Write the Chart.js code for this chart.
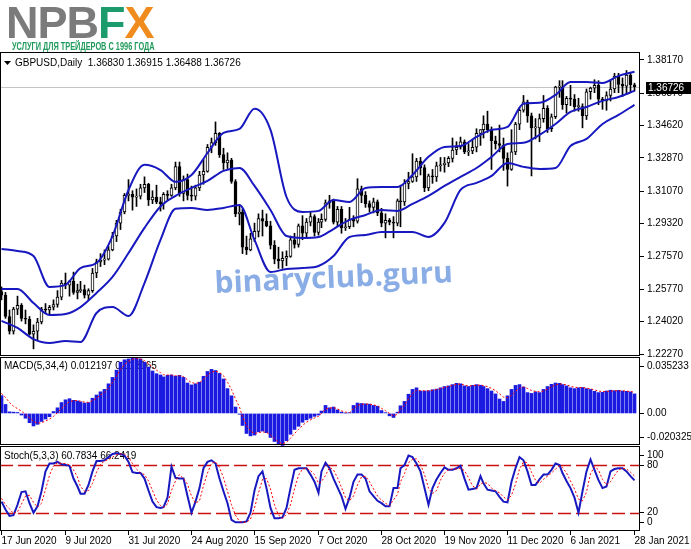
<!DOCTYPE html>
<html>
<head>
<meta charset="utf-8">
<script src="https://cdn.jsdelivr.net/npm/chart.js@4"></script>
<style>
  html, body { margin: 0; padding: 0; background: #fff; }
  #wrap { position: relative; width: 691px; height: 549px; overflow: hidden; }
  #chart { position: absolute; left: 0; top: 0; }
  #logo { position: absolute; left: 6px; top: 0; z-index: 2; font: bold 45px/45px "Liberation Sans", Arial, sans-serif; letter-spacing: -1px; color: #7b7b7b; }
  #logo .f { color: #1c9c6c; }
  #logo .x { color: #f08c1e; }
  #tag { position: absolute; left: 12px; top: 41px; z-index: 2; font: bold 11px/11px "Liberation Sans", Arial, sans-serif; color: #1f9a5c; white-space: nowrap; transform: scaleX(0.67); transform-origin: 0 0; }
</style>
</head>
<body>
<div id="wrap">
  <canvas id="chart" width="691" height="549"></canvas>
  <div id="logo">NPB<span class="f">F</span><span class="x">X</span></div>
  <div id="tag">УСЛУГИ ДЛЯ ТРЕЙДЕРОВ С 1996 ГОДА</div>
</div>
<script>
// GBPUSD daily, 17 Jun 2020 .. 28 Jan 2021 (161 bars)
const dateLabels = ['17 Jun 2020', '9 Jul 2020', '31 Jul 2020', '24 Aug 2020', '15 Sep 2020', '7 Oct 2020',
  '28 Oct 2020', '19 Nov 2020', '11 Dec 2020', '6 Jan 2021', '28 Jan 2021'];
const dateTicks = [0, 16, 32, 48, 64, 80, 96, 112, 128, 144, 160];

const opens = [
  1.2565, 1.2545, 1.2430, 1.2350, 1.2470, 1.2490, 1.2420, 1.2415, 1.2335, 1.2350,
  1.2400, 1.2470, 1.2465, 1.2480, 1.2495, 1.2535, 1.2610, 1.2600, 1.2620, 1.2560,
  1.2570, 1.2575, 1.2545, 1.2570, 1.2665, 1.2725, 1.2735, 1.2740, 1.2790, 1.2865,
  1.2935, 1.2995, 1.3085, 1.3090, 1.3075, 1.3080, 1.3125, 1.3145, 1.3060, 1.3075,
  1.3050, 1.3040, 1.3090, 1.3085, 1.3125, 1.3240, 1.3095, 1.3170, 1.3085, 1.3080,
  1.3125, 1.3195, 1.3215, 1.3345, 1.3370, 1.3420, 1.3305, 1.3260, 1.3275, 1.3160,
  1.2985, 1.2995, 1.2805, 1.2790, 1.2850, 1.2890, 1.2960, 1.2945, 1.2920, 1.2815,
  1.2740, 1.2730, 1.2745, 1.2755, 1.2845, 1.2820, 1.2920, 1.2880, 1.2940, 1.2970,
  1.2885, 1.2940, 1.2955, 1.3045, 1.3055, 1.2940, 1.3010, 1.2910, 1.2915, 1.2955,
  1.2945, 1.3120, 1.3085, 1.3040, 1.3020, 1.3050, 1.2990, 1.2935, 1.2950, 1.2940,
  1.2935, 1.3055, 1.3050, 1.3150, 1.3160, 1.3185, 1.3270, 1.3235, 1.3125, 1.3190,
  1.3185, 1.3245, 1.3250, 1.3260, 1.3285, 1.3330, 1.3345, 1.3375, 1.3320, 1.3325,
  1.3345, 1.3420, 1.3440, 1.3470, 1.3440, 1.3380, 1.3365, 1.3355, 1.3285, 1.3225,
  1.3320, 1.3470, 1.3545, 1.3590, 1.3515, 1.3450, 1.3450, 1.3500, 1.3555, 1.3445,
  1.3510, 1.3670, 1.3670, 1.3575, 1.3610, 1.3605, 1.3565, 1.3565, 1.3515, 1.3645,
  1.3665, 1.3680, 1.3605, 1.3595, 1.3625, 1.3660, 1.3730, 1.3685, 1.3675, 1.3735,
  1.36830
];
const highs = [
  1.2590, 1.2560, 1.2465, 1.2480, 1.2540, 1.2500, 1.2465, 1.2430, 1.2385, 1.2420,
  1.2480, 1.2500, 1.2490, 1.2520, 1.2570, 1.2625, 1.2665, 1.2625, 1.2670, 1.2605,
  1.2620, 1.2600, 1.2580, 1.2690, 1.2740, 1.2770, 1.2790, 1.2810, 1.2885, 1.2950,
  1.3010, 1.3095, 1.3170, 1.3110, 1.3120, 1.3145, 1.3185, 1.3150, 1.3110, 1.3140,
  1.3075, 1.3100, 1.3110, 1.3145, 1.3265, 1.3265, 1.3190, 1.3200, 1.3135, 1.3140,
  1.3215, 1.3280, 1.3360, 1.3395, 1.3482, 1.3425, 1.3340, 1.3315, 1.3285, 1.3170,
  1.3035, 1.3010, 1.2865, 1.2880, 1.2935, 1.2985, 1.3005, 1.2985, 1.2945, 1.2840,
  1.2805, 1.2780, 1.2785, 1.2865, 1.2880, 1.2930, 1.2975, 1.2960, 1.2995, 1.2980,
  1.2960, 1.2985, 1.3060, 1.3085, 1.3065, 1.3025, 1.3025, 1.2960, 1.3020, 1.2975,
  1.3175, 1.3135, 1.3105, 1.3055, 1.3070, 1.3060, 1.3015, 1.2985, 1.2960, 1.2970,
  1.3065, 1.3140, 1.3170, 1.3210, 1.3310, 1.3285, 1.3290, 1.3250, 1.3200, 1.3225,
  1.3265, 1.3290, 1.3290, 1.3295, 1.3395, 1.3375, 1.3400, 1.3385, 1.3365, 1.3385,
  1.3445, 1.3440, 1.3515, 1.3540, 1.3455, 1.3405, 1.3465, 1.3395, 1.3315, 1.3440,
  1.3480, 1.3560, 1.3625, 1.3600, 1.3530, 1.3500, 1.3525, 1.3625, 1.3570, 1.3525,
  1.3675, 1.3705, 1.3705, 1.3620, 1.3680, 1.3630, 1.3610, 1.3580, 1.3660, 1.3670,
  1.3710, 1.3705, 1.3615, 1.3645, 1.3705, 1.3745, 1.3745, 1.3720, 1.3760, 1.3745,
  1.36915
];
const lows = [
  1.2520, 1.2420, 1.2335, 1.2335, 1.2440, 1.2405, 1.2390, 1.2330, 1.2255, 1.2300,
  1.2390, 1.2445, 1.2445, 1.2465, 1.2480, 1.2520, 1.2580, 1.2540, 1.2550, 1.2525,
  1.2560, 1.2530, 1.2520, 1.2560, 1.2640, 1.2700, 1.2710, 1.2735, 1.2785, 1.2835,
  1.2900, 1.2985, 1.3055, 1.3005, 1.3025, 1.3065, 1.3100, 1.3030, 1.3040, 1.3040,
  1.3000, 1.3010, 1.3060, 1.3080, 1.3115, 1.3080, 1.3055, 1.3060, 1.3055, 1.3060,
  1.3110, 1.3145, 1.3210, 1.3315, 1.3355, 1.3290, 1.3225, 1.3230, 1.3150, 1.2970,
  1.2925, 1.2770, 1.2765, 1.2785, 1.2835, 1.2860, 1.2865, 1.2915, 1.2795, 1.2715,
  1.2690, 1.2690, 1.2705, 1.2750, 1.2800, 1.2805, 1.2845, 1.2860, 1.2920, 1.2865,
  1.2870, 1.2910, 1.2945, 1.3015, 1.2930, 1.2920, 1.2880, 1.2895, 1.2905, 1.2915,
  1.2935, 1.3045, 1.3020, 1.2995, 1.2990, 1.2975, 1.2915, 1.2855, 1.2925, 1.2855,
  1.2920, 1.2915, 1.3030, 1.3120, 1.3155, 1.3160, 1.3195, 1.3105, 1.3110, 1.3150,
  1.3160, 1.3215, 1.3210, 1.3240, 1.3265, 1.3305, 1.3335, 1.3310, 1.3300, 1.3310,
  1.3320, 1.3355, 1.3395, 1.3425, 1.3225, 1.3335, 1.3320, 1.3220, 1.3135, 1.3220,
  1.3305, 1.3440, 1.3535, 1.3480, 1.3190, 1.3390, 1.3375, 1.3480, 1.3425, 1.3430,
  1.3500, 1.3615, 1.3550, 1.3530, 1.3570, 1.3540, 1.3540, 1.3450, 1.3495, 1.3605,
  1.3640, 1.3575, 1.3550, 1.3545, 1.3595, 1.3640, 1.3640, 1.3620, 1.3630, 1.3640,
  1.36488
];
const closes = [
  1.2545, 1.2430, 1.2350, 1.2470, 1.2490, 1.2420, 1.2415, 1.2335, 1.2350, 1.2400,
  1.2470, 1.2465, 1.2480, 1.2495, 1.2535, 1.2610, 1.2600, 1.2620, 1.2560, 1.2570,
  1.2575, 1.2545, 1.2570, 1.2665, 1.2725, 1.2735, 1.2740, 1.2790, 1.2865, 1.2935,
  1.2995, 1.3085, 1.3090, 1.3075, 1.3080, 1.3125, 1.3145, 1.3060, 1.3075, 1.3050,
  1.3040, 1.3090, 1.3085, 1.3125, 1.3240, 1.3095, 1.3170, 1.3085, 1.3080, 1.3125,
  1.3195, 1.3215, 1.3345, 1.3370, 1.3420, 1.3305, 1.3260, 1.3275, 1.3160, 1.2985,
  1.2995, 1.2805, 1.2790, 1.2850, 1.2890, 1.2960, 1.2945, 1.2920, 1.2815, 1.2740,
  1.2730, 1.2745, 1.2755, 1.2845, 1.2820, 1.2920, 1.2880, 1.2940, 1.2970, 1.2885,
  1.2940, 1.2955, 1.3045, 1.3055, 1.2940, 1.3010, 1.2910, 1.2915, 1.2955, 1.2945,
  1.3120, 1.3085, 1.3040, 1.3020, 1.3050, 1.2990, 1.2935, 1.2950, 1.2940, 1.2935,
  1.3055, 1.3050, 1.3150, 1.3160, 1.3185, 1.3270, 1.3235, 1.3125, 1.3190, 1.3185,
  1.3245, 1.3250, 1.3260, 1.3285, 1.3330, 1.3345, 1.3375, 1.3320, 1.3325, 1.3345,
  1.3420, 1.3440, 1.3470, 1.3440, 1.3380, 1.3365, 1.3355, 1.3285, 1.3225, 1.3320,
  1.3470, 1.3545, 1.3590, 1.3515, 1.3450, 1.3450, 1.3500, 1.3555, 1.3445, 1.3510,
  1.3670, 1.3670, 1.3575, 1.3610, 1.3605, 1.3565, 1.3565, 1.3515, 1.3645, 1.3665,
  1.3680, 1.3605, 1.3595, 1.3625, 1.3660, 1.3730, 1.3685, 1.3675, 1.3735, 1.3683,
  1.36726
];

// Bollinger bands, every 4th bar
const bbStep = 4;
const bbUpper = [
  1.2795, 1.2784, 1.2757, 1.2590, 1.2601, 1.2692, 1.2719, 1.2865, 1.3114, 1.3250,
  1.3222, 1.3158, 1.3195, 1.3314, 1.3423, 1.3444, 1.3553, 1.3439, 1.3076, 1.2995,
  1.3001, 1.3060, 1.3049, 1.3125, 1.3130, 1.3130, 1.3195, 1.3293, 1.3347, 1.3352,
  1.3401, 1.3439, 1.3455, 1.3580, 1.3585, 1.3628, 1.3698, 1.3698, 1.3693, 1.3731,
  1.3753
];
const bbMiddle = [
  1.2579, 1.2579, 1.2503, 1.2438, 1.2443, 1.2481, 1.2557, 1.2644, 1.2773, 1.2909,
  1.3025, 1.3082, 1.3125, 1.3163, 1.3217, 1.3233, 1.3136, 1.3006, 1.2865, 1.2855,
  1.2860, 1.2903, 1.2952, 1.2979, 1.3006, 1.3001, 1.3039, 1.3082, 1.3136, 1.3185,
  1.3233, 1.3293, 1.3363, 1.3369, 1.3412, 1.3471, 1.3536, 1.3563, 1.3596, 1.3617,
  1.3650
];
const bbLower = [
  1.2406, 1.2368, 1.2308, 1.2287, 1.2297, 1.2292, 1.2449, 1.2481, 1.2433, 1.2611,
  1.2844, 1.3012, 1.3017, 1.3006, 1.3017, 1.3033, 1.2844, 1.2671, 1.2687, 1.2692,
  1.2703, 1.2757, 1.2860, 1.2871, 1.2887, 1.2887, 1.2887, 1.2860, 1.2936, 1.3114,
  1.3152, 1.3190, 1.3260, 1.3239, 1.3228, 1.3233, 1.3352, 1.3390, 1.3471, 1.3520,
  1.3574
];

// MACD(5,34,4): histogram and signal
const macdMain = [
  0.0111, 0.0056, 0.0010, 0.0008, 0.0006, -0.0010, -0.0030, -0.0058, -0.0078, -0.0068,
  -0.0050, -0.0035, -0.0020, 0.0012, 0.0035, 0.0068, 0.0085, 0.0092, 0.0082, 0.0078,
  0.0072, 0.0065, 0.0068, 0.0095, 0.0115, 0.0135, 0.0150, 0.0185, 0.0225, 0.0270,
  0.0320, 0.0335, 0.0340, 0.0352, 0.0345, 0.0340, 0.0320, 0.0290, 0.0265, 0.0248,
  0.0240, 0.0228, 0.0238, 0.0240, 0.0232, 0.0238, 0.0225, 0.0190, 0.0178, 0.0185,
  0.0195, 0.0232, 0.0262, 0.0275, 0.0268, 0.0250, 0.0215, 0.0155, 0.0110, 0.0040,
  -0.0005, -0.0075, -0.0125, -0.0140, -0.0135, -0.0115, -0.0110, -0.0120, -0.0150, -0.0175,
  -0.0195, -0.0200, -0.0170, -0.0130, -0.0100, -0.0080, -0.0055, -0.0040, -0.0030, -0.0018,
  -0.0010, 0.0015, 0.0050, 0.0035, 0.0040, 0.0022, 0.0008, 0.0002, 0.0005, 0.0050,
  0.0065, 0.0062, 0.0060, 0.0058, 0.0050, 0.0045, 0.0018, 0.0005, -0.0015, -0.0025,
  0.0008, 0.0048, 0.0075, 0.0120, 0.0150, 0.0160, 0.0140, 0.0140, 0.0142, 0.0148,
  0.0152, 0.0160, 0.0168, 0.0172, 0.0180, 0.0188, 0.0185, 0.0172, 0.0168, 0.0175,
  0.0180, 0.0176, 0.0168, 0.0155, 0.0140, 0.0122, 0.0090, 0.0075, 0.0110, 0.0150,
  0.0175, 0.0180, 0.0165, 0.0130, 0.0125, 0.0135, 0.0130, 0.0150, 0.0168, 0.0182,
  0.0190, 0.0188, 0.0180, 0.0172, 0.0160, 0.0155, 0.0160, 0.0162, 0.0155, 0.0150,
  0.0138, 0.0130, 0.0132, 0.0140, 0.0145, 0.0142, 0.0144, 0.0140, 0.0138, 0.0135,
  0.012197
];
const macdSignal = [
  0.0125, 0.0100, 0.0068, 0.0045, 0.0030, 0.0014, -0.0005, -0.0028, -0.0050, -0.0060,
  -0.0058, -0.0048, -0.0035, -0.0018, 0.0005, 0.0030, 0.0055, 0.0073, 0.0080, 0.0080,
  0.0076, 0.0071, 0.0069, 0.0080, 0.0095, 0.0115, 0.0132, 0.0160, 0.0192, 0.0232,
  0.0275, 0.0305, 0.0325, 0.0338, 0.0342, 0.0340, 0.0330, 0.0312, 0.0290, 0.0270,
  0.0255, 0.0242, 0.0240, 0.0240, 0.0235, 0.0236, 0.0230, 0.0210, 0.0192, 0.0188,
  0.0192, 0.0212, 0.0240, 0.0258, 0.0264, 0.0256, 0.0235, 0.0195, 0.0150, 0.0090,
  0.0040, -0.0020, -0.0075, -0.0110, -0.0125, -0.0120, -0.0115, -0.0118, -0.0135, -0.0158,
  -0.0178, -0.0190, -0.0180, -0.0155, -0.0125, -0.0100, -0.0075, -0.0055, -0.0040, -0.0028,
  -0.0018, 0.0000, 0.0028, 0.0032, 0.0037, 0.0028, 0.0016, 0.0008, 0.0006, 0.0030,
  0.0050, 0.0057, 0.0059, 0.0058, 0.0053, 0.0048, 0.0032, 0.0017, 0.0000, -0.0015,
  -0.0005, 0.0025, 0.0052, 0.0090, 0.0125, 0.0145, 0.0142, 0.0141, 0.0141, 0.0145,
  0.0149, 0.0155, 0.0163, 0.0168, 0.0175, 0.0182, 0.0184, 0.0177, 0.0171, 0.0173,
  0.0176, 0.0177, 0.0174, 0.0167, 0.0157, 0.0143, 0.0122, 0.0102, 0.0098, 0.0113,
  0.0138, 0.0158, 0.0166, 0.0156, 0.0143, 0.0138, 0.0135, 0.0140, 0.0152, 0.0166,
  0.0178, 0.0184, 0.0183, 0.0178, 0.0170, 0.0163, 0.0162, 0.0162, 0.0158, 0.0154,
  0.0147, 0.0140, 0.0136, 0.0137, 0.0140, 0.0141, 0.0142, 0.0141, 0.0139, 0.0137,
  0.013165
];

// Stochastic(5,3,3)
const stochK = [
  34, 24, 16, 17, 30, 46, 47, 32, 20, 28,
  47, 72, 82, 82, 84, 81, 80, 79, 63, 53,
  44, 44, 55, 72, 85, 85, 86, 90, 94, 95,
  94, 92, 84, 71, 70, 70, 63, 48, 34, 27,
  26, 27, 39, 78, 64, 63, 63, 41, 20, 34,
  51, 76, 84, 86, 82, 63, 47, 32, 11, 8,
  8, 8, 9, 20, 48, 66, 72, 51, 26, 13,
  13, 14, 26, 51, 74, 76, 76, 76, 68, 59,
  45, 72, 83, 76, 63, 52, 41, 25, 39, 59,
  68, 68, 63, 47, 41, 35, 32, 28, 28, 51,
  51, 76, 80, 92, 90, 82, 72, 51, 30, 51,
  62, 70, 77, 74, 74, 76, 79, 63, 49, 50,
  51, 66, 57, 49, 48, 47, 40, 34, 33, 59,
  76, 90, 86, 72, 55, 55, 62, 68, 68, 74,
  82, 80, 70, 60, 51, 39, 20, 47, 72, 87,
  74, 61, 51, 53, 72, 75, 76, 76, 72, 66,
  60.7834
];
const stochD = [
  38, 30, 25, 19, 21, 31, 41, 42, 33, 27,
  32, 49, 67, 79, 83, 82, 82, 80, 74, 65,
  53, 47, 48, 57, 71, 81, 85, 87, 90, 93,
  94, 94, 90, 82, 75, 70, 68, 60, 48, 36,
  29, 27, 31, 48, 60, 68, 63, 56, 41, 32,
  35, 54, 70, 82, 84, 77, 64, 47, 30, 17,
  9, 8, 8, 12, 26, 45, 62, 63, 50, 30,
  17, 13, 18, 30, 50, 67, 75, 76, 73, 68,
  57, 59, 67, 77, 74, 64, 52, 39, 35, 41,
  55, 65, 66, 59, 50, 41, 36, 32, 29, 36,
  43, 59, 69, 83, 87, 88, 81, 68, 51, 44,
  48, 61, 70, 74, 75, 75, 76, 73, 64, 54,
  50, 56, 58, 57, 51, 48, 45, 40, 36, 42,
  56, 75, 84, 83, 71, 61, 57, 62, 66, 70,
  75, 79, 77, 70, 60, 50, 37, 35, 46, 69,
  78, 74, 62, 55, 59, 67, 74, 76, 75, 71,
  66.2419
];
const stochLevels = [80, 20];

const priceTicks = [1.38170, 1.36370, 1.34620, 1.32870, 1.31070, 1.29320, 1.27570, 1.25770, 1.24020, 1.22270];
const macdTicks = [0.035233, 0, -0.020325];
const stochTicks = [100, 80, 20, 0];

const BLUE = '#1818c0';
const FONT = '"Liberation Sans", Arial, sans-serif';
const last = closes.length - 1;
const bars = closes.map((_, i) => i);

// one right-hand axis per sub-window, stacked top to bottom
function paneAxis(weight, min, max, values, fmt, inset) {
  return {
    position: 'right',
    stack: 'panes',
    stackWeight: weight,
    min: min,
    max: max,
    grid: { drawOnChartArea: false, drawTicks: true, tickLength: 4, color: '#000' },
    border: { display: false },
    ticks: { color: '#000', font: { family: FONT, size: 10 }, padding: 3, autoSkip: false, callback: fmt },
    afterBuildTicks(s) { s.ticks = values.map(v => ({ value: v })); },
    afterFit(s) {
      s.width = 51;
      s.paddingTop = 0;
      s.paddingBottom = 0;
      if (inset) {
        // MT4 keeps the min/max labels inside the window
        const base = Object.getPrototypeOf(s).getPixelForTick;
        s.getPixelForTick = function (i) {
          const p = base.call(this, i);
          return Math.min(Math.max(p, this.top + inset), this.bottom - inset);
        };
      }
    }
  };
}

const mtPanels = {
  id: 'mtPanels',
  beforeDatasetsDraw(chart) {
    const { ctx, chartArea: a, scales } = chart;
    const y = scales.y, ym = scales.yMacd, ys = scales.yStoch;
    ctx.save();

    // watermark
    ctx.save();
    ctx.translate(a.left + 215, y.top + 241);
    ctx.rotate(-2.6 * Math.PI / 180);
    ctx.font = 'bold 30px "Open Sans", sans-serif';
    ctx.fillStyle = 'rgba(104,150,220,0.78)';
    ctx.fillText('binaryclub.guru', 0, 0);
    ctx.restore();

    // current price line
    const py = Math.round(y.getPixelForValue(closes[last])) + 0.5;
    ctx.strokeStyle = '#c4c4c4';
    ctx.lineWidth = 1;
    ctx.beginPath();
    ctx.moveTo(a.left, py);
    ctx.lineTo(a.right, py);
    ctx.stroke();

    // stochastic levels
    ctx.strokeStyle = '#cc1111';
    ctx.lineWidth = 1.5;
    ctx.setLineDash([13, 5]);
    stochLevels.forEach(v => {
      const ly = Math.round(ys.getPixelForValue(v)) + 0.5;
      ctx.beginPath();
      ctx.moveTo(a.left, ly);
      ctx.lineTo(a.right, ly);
      ctx.stroke();
    });
    ctx.setLineDash([]);

    // window captions
    ctx.fillStyle = '#000';
    ctx.textBaseline = 'middle';
    ctx.font = '10px ' + FONT;
    ctx.beginPath();
    ctx.moveTo(a.left + 4, y.top + 9);
    ctx.lineTo(a.left + 11, y.top + 9);
    ctx.lineTo(a.left + 7.5, y.top + 13);
    ctx.closePath();
    ctx.fill();
    ctx.fillText('GBPUSD,Daily  ' + [opens[last], highs[last], lows[last], closes[last]].map(v => v.toFixed(5)).join(' '),
      a.left + 15, y.top + 11);
    ctx.fillText('MACD(5,34,4) ' + macdMain[last].toFixed(6) + ' ' + macdSignal[last].toFixed(6), a.left + 4, ym.top + 9);
    ctx.fillText('Stoch(5,3,3) ' + stochK[last].toFixed(4) + ' ' + stochD[last].toFixed(4), a.left + 4, ys.top + 10);
    ctx.restore();
  },
  afterDraw(chart) {
    const { ctx, chartArea: a, scales } = chart;
    ctx.save();
    ctx.strokeStyle = '#000';
    ctx.lineWidth = 1;
    ['y', 'yMacd', 'yStoch'].forEach((id, k) => {
      const s = scales[id];
      ctx.strokeRect(a.left + 0.5, s.top + 0.5, a.right - a.left - 1, s.bottom - s.top - (k === 2 ? 1 : 2));
    });
    // last price tag on the axis
    const py = Math.round(scales.y.getPixelForValue(closes[last]));
    ctx.fillStyle = '#000';
    ctx.fillRect(a.right + 6, py - 5, 45, 12);
    ctx.fillStyle = '#fff';
    ctx.font = '10px ' + FONT;
    ctx.textBaseline = 'middle';
    ctx.fillText(closes[last].toFixed(5), a.right + 8, py + 1);
    ctx.restore();
  }
};

new Chart(document.getElementById('chart'), {
  type: 'bar',
  data: {
    datasets: [
      { type: 'line', yAxisID: 'y', data: bbUpper.map((v, k) => ({ x: k * bbStep, y: v })),
        borderColor: BLUE, borderWidth: 2, pointRadius: 0, cubicInterpolationMode: 'monotone', order: 0 },
      { type: 'line', yAxisID: 'y', data: bbMiddle.map((v, k) => ({ x: k * bbStep, y: v })),
        borderColor: BLUE, borderWidth: 2, pointRadius: 0, cubicInterpolationMode: 'monotone', order: 0 },
      { type: 'line', yAxisID: 'y', data: bbLower.map((v, k) => ({ x: k * bbStep, y: v })),
        borderColor: BLUE, borderWidth: 2, pointRadius: 0, cubicInterpolationMode: 'monotone', order: 0 },
      { yAxisID: 'y', data: bars.map(i => ({ x: i, y: [opens[i], closes[i]] })),
        backgroundColor: c => closes[c.dataIndex] >= opens[c.dataIndex] ? '#ffffff' : '#000000',
        borderColor: '#000', borderWidth: 1, borderSkipped: false, barThickness: 3, minBarLength: 1,
        grouped: false, order: 1 },
      { yAxisID: 'y', data: bars.map(i => ({ x: i, y: [lows[i], highs[i]] })),
        backgroundColor: '#000', barThickness: 1, grouped: false, order: 2 },
      { yAxisID: 'yMacd', data: bars.map(i => ({ x: i, y: macdMain[i] })),
        backgroundColor: '#1a1ae0', barThickness: 3, grouped: false, order: 3 },
      { type: 'line', yAxisID: 'yMacd', data: bars.map(i => ({ x: i, y: macdSignal[i] })),
        borderColor: '#ff0000', borderWidth: 1, borderDash: [2, 2], pointRadius: 0, order: 0 },
      { type: 'line', yAxisID: 'yStoch', data: bars.map(i => ({ x: i, y: stochK[i] })),
        borderColor: BLUE, borderWidth: 2, pointRadius: 0, order: 1 },
      { type: 'line', yAxisID: 'yStoch', data: bars.map(i => ({ x: i, y: stochD[i] })),
        borderColor: '#ff0000', borderWidth: 1, borderDash: [2, 2], pointRadius: 0, order: 0 }
    ]
  },
  options: {
    responsive: false,
    animation: false,
    layout: { padding: { top: 52, left: 0, right: 0, bottom: 0 } },
    plugins: { legend: { display: false }, tooltip: { enabled: false } },
    scales: {
      x: {
        type: 'linear',
        min: -0.5,
        max: 161.5,
        offset: false,
        grid: { display: true, drawOnChartArea: false, tickLength: 4, color: '#000', offset: false },
        border: { display: false },
        ticks: {
          autoSkip: false, maxRotation: 0, align: 'start', padding: 0, color: '#000',
          font: { family: FONT, size: 10 },
          callback: v => dateLabels[dateTicks.indexOf(v)]
        },
        afterBuildTicks(s) { s.ticks = dateTicks.map(v => ({ value: v })); },
        afterFit(s) {
          s.height = 18;
          s.paddingLeft = 0;
          s.paddingRight = 0;
          // snap bar centres to pixel centres so the 1px wicks stay crisp
          const base = Object.getPrototypeOf(s).getPixelForValue;
          s.getPixelForValue = function (v) { return Math.floor(base.call(this, v)) + 0.5; };
        }
      },
      y: paneAxis(305, 1.2211, 1.3860, priceTicks, v => v.toFixed(5), 0),
      yMacd: paneAxis(89, -0.020325, 0.035233, macdTicks, v => (v === 0 ? '0.00' : String(v)), 9),
      yStoch: paneAxis(85, -3, 104, stochTicks, v => String(v), 9)
    }
  },
  plugins: [mtPanels]
});
</script>
</body>
</html>
